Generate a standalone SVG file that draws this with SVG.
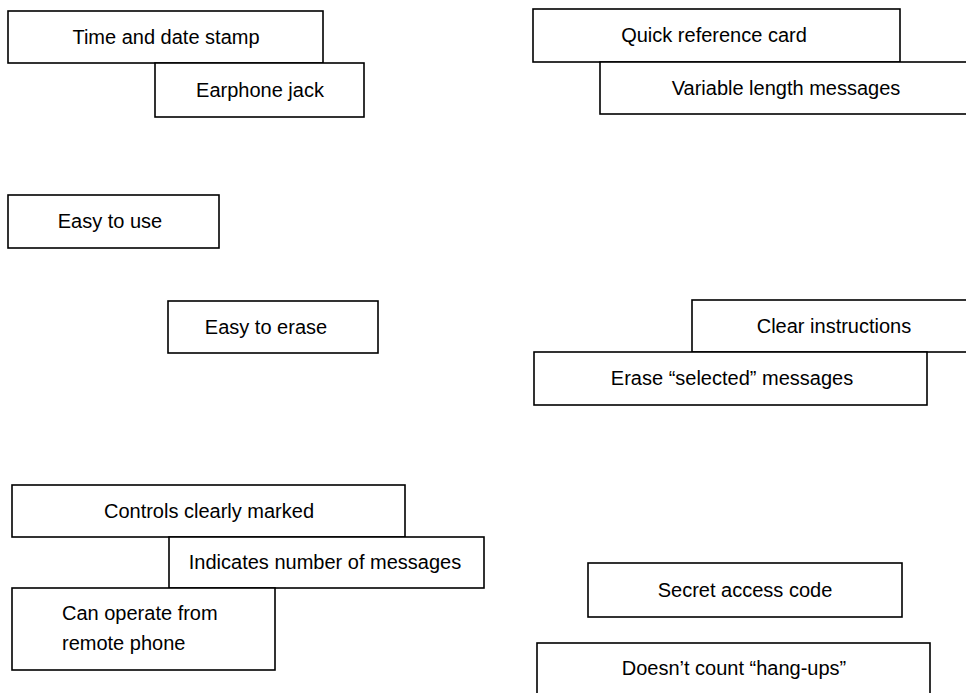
<svg xmlns="http://www.w3.org/2000/svg" width="966" height="693" viewBox="0 0 966 693">
<style>
rect{fill:#fff;stroke:#000;stroke-width:1.6}
text{font-family:"Liberation Sans",Arial,sans-serif;font-size:20px;fill:#000;text-anchor:middle}
.l{text-anchor:start}
</style>
<rect x="0" y="0" width="966" height="693" style="stroke:none"/>
<g id="connectors"></g>
<g id="n1"><rect x="8" y="11" width="315" height="52"/><text x="166" y="44">Time and date stamp</text></g>
<g id="n2"><rect x="155" y="63" width="209" height="54"/><text x="260" y="97">Earphone jack</text></g>
<g id="n3"><rect x="533" y="9" width="367" height="53"/><text x="714" y="42">Quick reference card</text></g>
<g id="n4"><rect x="600" y="62" width="372" height="52"/><text x="786" y="95">Variable length messages</text></g>
<g id="n5"><rect x="8" y="195" width="211" height="53"/><text x="110" y="228">Easy to use</text></g>
<g id="n6"><rect x="168" y="301" width="210" height="52"/><text x="266" y="334">Easy to erase</text></g>
<g id="n7"><rect x="692" y="300" width="284" height="52"/><text x="834" y="333">Clear instructions</text></g>
<g id="n8"><rect x="534" y="352" width="393" height="53"/><text x="732" y="385">Erase “selected” messages</text></g>
<g id="n9"><rect x="12" y="485" width="393" height="52"/><text x="209" y="518">Controls clearly marked</text></g>
<g id="n10"><rect x="169" y="537" width="315" height="51"/><text x="325" y="569">Indicates number of messages</text></g>
<g id="n11"><rect x="12" y="588" width="263" height="82"/><text class="l" x="62" y="620">Can operate from</text><text class="l" x="62" y="650">remote phone</text></g>
<g id="n12"><rect x="588" y="563" width="314" height="54"/><text x="745" y="597">Secret access code</text></g>
<g id="n13"><rect x="537" y="643" width="393" height="60"/><text x="734" y="675">Doesn’t count “hang-ups”</text></g>
</svg>
